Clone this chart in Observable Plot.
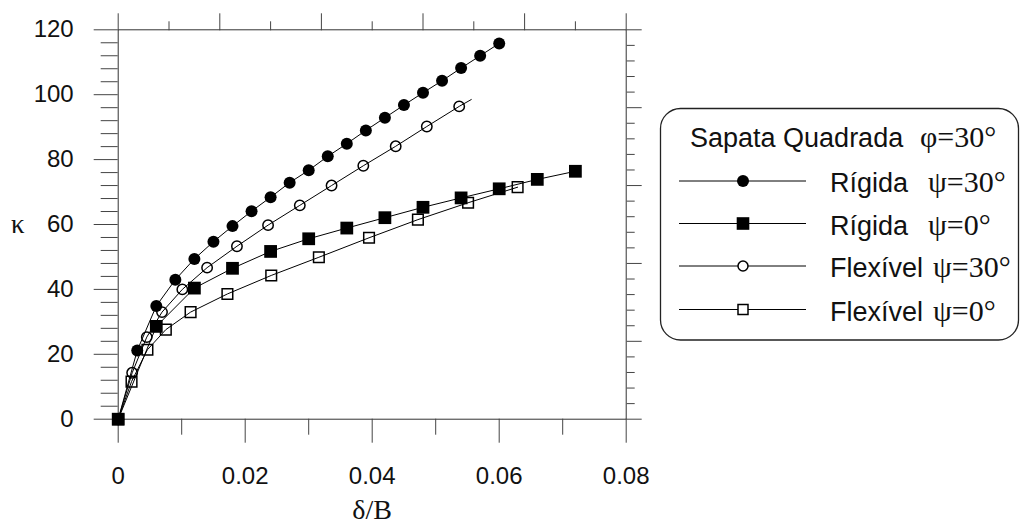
<!DOCTYPE html>
<html>
<head>
<meta charset="utf-8">
<script src="https://cdn.jsdelivr.net/npm/d3@7"></script>
<script src="https://cdn.jsdelivr.net/npm/@observablehq/plot@0.6"></script>
<style>
  html, body { margin: 0; padding: 0; background: #fff; }
  #wrap { position: relative; width: 1020px; height: 525px; overflow: hidden; }
  #legend { position: absolute; left: 0; top: 0; pointer-events: none; }
</style>
</head>
<body>
<div id="wrap"></div>
<script>
// ---- tick definitions ----
const xMajor = [0, 0.02, 0.04, 0.06, 0.08];
const xMajorLabels = ["0", "0.02", "0.04", "0.06", "0.08"];
const xMinor = [0.01, 0.03, 0.05, 0.07];
const xTopMajor = [0, 0.016, 0.032, 0.048, 0.064, 0.08];
const xTopMinor = [0.008, 0.024, 0.04, 0.056, 0.072];
const yMajor = [0, 20, 40, 60, 80, 100, 120];
const yMajorLabels = ["0", "20", "40", "60", "80", "100", "120"];
const yMinor = [4, 8, 12, 16, 24, 28, 32, 36, 44, 48, 52, 56, 64, 68, 72, 76, 84, 88, 92, 96, 104, 108, 112, 116];
const yRightMajor = [0, 24, 48, 72, 96, 120];
const yRightMinor = [4.8, 9.6, 14.4, 19.2, 28.8, 33.6, 38.4, 43.2, 52.8, 57.6, 62.4, 67.2, 76.8, 81.6, 86.4, 91.2, 100.8, 105.6, 110.4, 115.2];

// ---- series ----
// Rígida ψ=30° (filled circles)
const rig30X = [0, 0.003, 0.006, 0.009, 0.012, 0.015, 0.018, 0.021, 0.024, 0.027, 0.030, 0.033, 0.036, 0.039, 0.042, 0.045, 0.048, 0.051, 0.054, 0.057, 0.060];
const rig30Y = [0, 21.2, 34.9, 43.0, 49.4, 54.7, 59.5, 64.1, 68.4, 72.9, 76.7, 81.0, 84.9, 89.0, 92.9, 96.8, 100.6, 104.3, 108.2, 112.0, 115.8];
// Rígida ψ=0° (filled squares)
const rig0X = [0, 0.006, 0.012, 0.018, 0.024, 0.030, 0.036, 0.042, 0.048, 0.054, 0.060, 0.066, 0.072];
const rig0Y = [0, 28.6, 40.4, 46.5, 51.7, 55.6, 58.9, 62.1, 65.3, 68.2, 71.0, 73.9, 76.4];
// Flexível ψ=30° (open circles) + last line point without marker
const flex30X = [0, 0.0022, 0.0045, 0.0069, 0.0101, 0.0140, 0.0187, 0.0236, 0.0286, 0.0336, 0.0386, 0.0437, 0.0486, 0.0537];
const flex30Y = [0, 14.3, 25.3, 33.0, 40.0, 46.7, 53.3, 59.8, 65.9, 72.0, 78.1, 84.1, 90.2, 96.4];
const flex30EndX = [0.0556];
const flex30EndY = [98.5];
// Flexível ψ=0° (open squares)
const flex0X = [0, 0.0021, 0.0046, 0.0075, 0.0114, 0.0172, 0.0241, 0.0316, 0.0395, 0.0472, 0.0551, 0.0629];
const flex0Y = [0, 11.6, 21.4, 27.6, 33.0, 38.6, 44.3, 49.9, 55.9, 61.5, 66.7, 71.5];

const pts = (xs, ys) => xs.map((x, i) => ({x, y: ys[i]}));
const rig30 = pts(rig30X, rig30Y);
const rig0 = pts(rig0X, rig0Y);
const flex30 = pts(flex30X, flex30Y);
const flex30Line = flex30.concat(pts(flex30EndX, flex30EndY));
const flex0 = pts(flex0X, flex0Y);

const tickStroke = "#444";
const blank = () => "";
const serifFont = "'Liberation Serif', 'Times New Roman', serif";

const chart = Plot.plot({
  width: 1020,
  height: 525,
  marginLeft: 117.7,
  marginRight: 394.3,
  marginTop: 29.3,
  marginBottom: 106.3,
  x: {domain: [0, 0.08]},
  y: {domain: [0, 120]},
  style: {fontFamily: "'Liberation Sans', Arial, Helvetica, sans-serif", fontSize: "24px", color: "#111", background: "#fff", overflow: "visible"},
  marks: [
    Plot.frame({stroke: "#333", strokeWidth: 1}),
    // bottom axis
    Plot.axisX({anchor: "bottom", ticks: xMajor, tickSize: 24, tickPadding: 24, tickFormat: d => xMajorLabels[xMajor.indexOf(d)], label: null, stroke: tickStroke, fontSize: 24}),
    Plot.axisX({anchor: "bottom", ticks: xMinor, tickSize: 16, tickFormat: blank, label: null, stroke: tickStroke}),
    // top axis
    Plot.axisX({anchor: "top", ticks: xTopMajor, tickSize: 17, tickFormat: blank, label: null, stroke: tickStroke}),
    Plot.axisX({anchor: "top", ticks: xTopMinor, tickSize: 9, tickFormat: blank, label: null, stroke: tickStroke}),
    // left axis
    Plot.axisY({anchor: "left", ticks: yMajor, tickSize: 24, tickPadding: 20.5, tickFormat: d => yMajorLabels[yMajor.indexOf(d)], label: null, stroke: tickStroke, fontSize: 24}),
    Plot.axisY({anchor: "left", ticks: yMinor, tickSize: 17, tickFormat: blank, label: null, stroke: tickStroke}),
    // right axis
    Plot.axisY({anchor: "right", ticks: yRightMajor, tickSize: 15, tickFormat: blank, label: null, stroke: tickStroke}),
    Plot.axisY({anchor: "right", ticks: yRightMinor, tickSize: 8, tickFormat: blank, label: null, stroke: tickStroke}),
    // axis titles
    Plot.text(["κ"], {frameAnchor: "left", textAnchor: "middle", lineAnchor: "middle", dx: -100.5, dy: 0, fontFamily: serifFont, fontSize: 27, fill: "#111"}),
    Plot.text(["δ/B"], {frameAnchor: "bottom", textAnchor: "middle", lineAnchor: "middle", dx: 0, dy: 91, fontFamily: serifFont, fontSize: 28, fill: "#111"}),
    // lines
    Plot.line(rig30, {x: "x", y: "y", stroke: "#000", strokeWidth: 1}),
    Plot.line(rig0, {x: "x", y: "y", stroke: "#000", strokeWidth: 1}),
    Plot.line(flex30Line, {x: "x", y: "y", stroke: "#000", strokeWidth: 1}),
    Plot.line(flex0, {x: "x", y: "y", stroke: "#000", strokeWidth: 1}),
    // markers
    Plot.dot(flex0, {x: "x", y: "y", symbol: "square", r: 6, fill: "none", stroke: "#000", strokeWidth: 1.5}),
    Plot.dot(flex30, {x: "x", y: "y", symbol: "circle", r: 5.2, fill: "none", stroke: "#000", strokeWidth: 1.5}),
    Plot.dot(rig0, {x: "x", y: "y", symbol: "square", r: 7.2, fill: "#000", stroke: "none"}),
    Plot.dot(rig30, {x: "x", y: "y", symbol: "circle", r: 6, fill: "#000", stroke: "none"})
  ]
});

const wrap = document.getElementById("wrap");
wrap.appendChild(chart);

// ---- legend overlay ----
const legendTitle = "Sapata Quadrada";
const legendTitleGreek = "φ=30°";
const legendNames = ["Rígida", "Rígida", "Flexível", "Flexível"];
const legendGreek = ["ψ=30°", "ψ=0°", "ψ=30°", "ψ=0°"];
const legendSymbols = ["filledCircle", "filledSquare", "openCircle", "openSquare"];

const ns = "http://www.w3.org/2000/svg";
const svg = document.createElementNS(ns, "svg");
svg.setAttribute("id", "legend");
svg.setAttribute("width", 1020);
svg.setAttribute("height", 525);
function el(tag, attrs, text) {
  const e = document.createElementNS(ns, tag);
  for (const k in attrs) e.setAttribute(k, attrs[k]);
  if (text != null) e.textContent = text;
  svg.appendChild(e);
  return e;
}
const sans = "'Liberation Sans', Arial, Helvetica, sans-serif";
el("rect", {x: 660.5, y: 108.5, width: 358, height: 231.5, rx: 20, ry: 20, fill: "none", stroke: "#222", "stroke-width": 1.3});
el("text", {x: 690, y: 147, "font-family": sans, "font-size": 27, fill: "#111"}, legendTitle);
el("text", {x: 920, y: 147, "font-family": serifFont, "font-size": 30, fill: "#111"}, legendTitleGreek);
const rowY = [181, 223.5, 266, 309.5];
const greekX = [928, 928, 933, 933];
legendNames.forEach((name, i) => {
  const cy = rowY[i];
  el("line", {x1: 679, x2: 806, y1: cy, y2: cy, stroke: "#000", "stroke-width": 1});
  const s = legendSymbols[i];
  if (s === "filledCircle") el("circle", {cx: 743, cy, r: 6, fill: "#000"});
  if (s === "filledSquare") el("rect", {x: 743 - 6.3, y: cy - 6.3, width: 12.6, height: 12.6, fill: "#000"});
  if (s === "openCircle") el("circle", {cx: 743, cy, r: 5, fill: "#fff", stroke: "#000", "stroke-width": 1.5});
  if (s === "openSquare") el("rect", {x: 743 - 5, y: cy - 5, width: 10, height: 10, fill: "#fff", stroke: "#000", "stroke-width": 1.5});
  el("text", {x: 830, y: cy + 11, "font-family": sans, "font-size": 27, fill: "#111"}, name);
  el("text", {x: greekX[i], y: cy + 11, "font-family": serifFont, "font-size": 30, fill: "#111"}, legendGreek[i]);
});
wrap.appendChild(svg);
</script>
</body>
</html>
